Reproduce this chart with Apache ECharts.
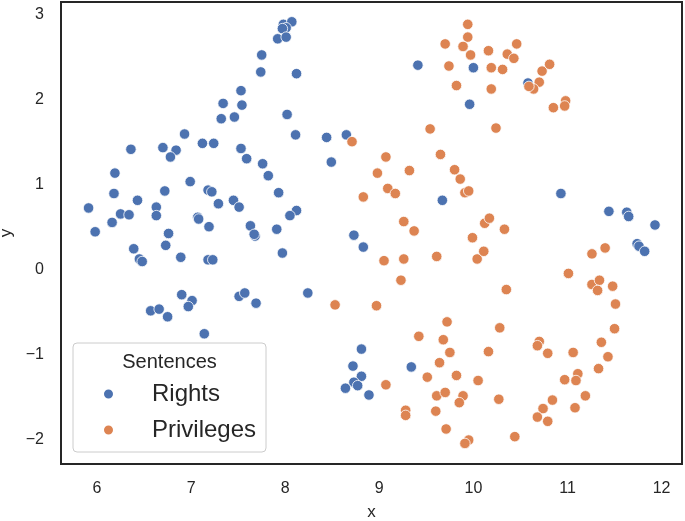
<!DOCTYPE html>
<html>
<head>
<meta charset="utf-8">
<script src="https://cdn.jsdelivr.net/npm/echarts@6/dist/echarts.min.js"></script>
<style>
  html, body { margin: 0; padding: 0; background: #fff; }
  #chart { width: 685px; height: 521px; }
</style>
</head>
<body>
<div id="chart"></div>
<script>
// series names
const seriesNames = ['Rights', 'Privileges']

// Rights points
const rightsX = [7.98, 8.07, 8.01, 7.97, 7.92, 8.01, 7.75, 7.74, 8.12, 7.53, 7.34, 7.54, 7.32, 7.46, 8.02, 8.11,
  6.93, 6.36, 6.70, 6.84, 6.78, 7.12, 7.24, 7.53, 7.59, 7.76, 7.82,
  6.19, 6.18, 6.43, 6.72, 6.99, 7.18, 7.22, 7.29, 7.45, 7.51, 7.93,
  5.91, 6.25, 6.34, 6.63, 6.63, 7.07, 7.08,
  5.98, 6.16, 6.76, 7.19, 7.63, 7.68, 7.67, 7.91, 8.12, 8.05,
  6.89, 7.18, 7.23, 7.97, 6.90, 7.01, 6.97, 7.51, 7.57, 7.69, 8.24,
  6.39, 6.45, 6.48, 6.73, 6.57, 6.66, 6.75, 7.14,
  8.44, 8.65, 8.49, 9.41, 10.00, 9.96, 9.67, 8.73, 8.83, 8.81, 8.72, 8.81, 8.73, 8.77, 8.64, 8.89, 9.34,
  10.58, 10.93, 11.44, 11.63, 11.65, 11.93, 11.74, 11.76, 11.82]
const rightsY = [2.89, 2.92, 2.85, 2.84, 2.72, 2.74, 2.53, 2.33, 2.31, 2.11, 1.96, 1.94, 1.78, 1.80, 1.83, 1.59,
  1.60, 1.42, 1.44, 1.41, 1.33, 1.49, 1.49, 1.43, 1.31, 1.25, 1.11,
  1.14, 0.90, 0.82, 0.93, 1.04, 0.94, 0.92, 0.78, 0.82, 0.74, 0.91,
  0.73, 0.66, 0.65, 0.74, 0.64, 0.62, 0.60,
  0.45, 0.56, 0.43, 0.51, 0.52, 0.40, 0.42, 0.48, 0.70, 0.64,
  0.15, 0.12, 0.12, 0.20, -0.29, -0.36, -0.43, -0.31, -0.27, -0.39, -0.27,
  0.25, 0.13, 0.10, 0.29, -0.48, -0.46, -0.55, -0.75,
  1.56, 1.59, 1.27, 2.41, 2.38, 1.95, 0.82, 0.41, 0.27, -0.93, -1.13, -1.25, -1.32, -1.36, -1.39, -1.47, -1.14,
  2.20, 0.90, 0.69, 0.68, 0.63, 0.53, 0.31, 0.28, 0.22]

// Privileges points
const privilegesX = [9.94, 9.94, 9.70, 9.89, 9.97, 9.74, 9.82, 9.54, 8.71, 9.65,
  9.07, 8.98, 9.32, 9.80, 9.86, 9.91, 9.95, 9.09, 9.17, 8.83,
  9.26, 9.37, 9.99, 9.05, 9.26, 9.61, 10.04, 9.23, 8.53, 8.97,
  9.72, 9.42, 9.68, 9.75, 9.64, 9.51, 9.82, 9.07, 9.61, 9.70,
  9.89, 9.85, 10.05, 9.28, 9.28, 9.60, 9.71, 9.95, 9.91,
  10.16, 10.19, 10.31, 10.36, 10.43, 10.46, 10.19, 10.24, 10.73, 10.81,
  10.70, 10.64, 10.59, 10.98, 10.97, 10.85, 10.12, 10.17, 10.33, 10.11,
  10.35, 11.01, 11.26, 11.40, 11.26, 11.34, 11.32, 11.48, 11.51, 10.28,
  10.16, 10.27, 10.44, 10.70, 10.68, 10.79, 11.06, 11.36, 11.50, 11.43,
  11.33, 11.11, 11.09, 10.97, 11.19, 11.08, 10.84, 10.74, 10.68, 10.79]
const privilegesY = [2.89, 2.74, 2.66, 2.63, 2.53, 2.40, 2.17, 1.66, 1.51, 1.36,
  1.33, 1.14, 1.17, 1.18, 1.07, 0.91, 0.93, 0.96, 0.90, 0.86,
  0.57, 0.46, 0.38, 0.11, 0.13, 0.16, 0.13, -0.12, -0.41, -0.42,
  -0.61, -0.78, -0.82, -0.97, -1.09, -1.26, -1.24, -1.35, -1.48, -1.44,
  -1.48, -1.56, -1.30, -1.65, -1.71, -1.66, -1.87, -2.00, -2.04,
  2.58, 2.38, 2.36, 2.54, 2.49, 2.66, 2.13, 1.67, 2.34, 2.42,
  2.21, 2.13, 2.16, 1.99, 1.93, 1.91, 0.55, 0.61, 0.48, 0.22,
  -0.23, -0.04, 0.19, 0.26, -0.17, -0.12, -0.24, -0.19, -0.40, -0.68,
  -0.96, -1.52, -1.96, -0.84, -0.89, -0.98, -0.97, -0.85, -0.69, -1.02,
  -1.16, -1.22, -1.30, -1.29, -1.48, -1.62, -1.53, -1.63, -1.73, -1.78]

// axis limits
const xRange = [5.617, 12.217]
const yRange = [-2.282, 3.153]

const colors = ['#4C72B0', '#DD8452']
const font = "'Liberation Sans', Arial, sans-serif"
const textColor = '#262626'

const zip = (xs, ys) => xs.map((x, i) => [x, ys[i]])

const chart = echarts.init(document.getElementById('chart'))

const axisCommon = {
  type: 'value',
  minInterval: 1,
  maxInterval: 1,
  nameLocation: 'middle',
  nameTextStyle: { fontSize: 17, color: textColor, fontFamily: font },
  axisLine: { show: false },
  axisTick: { show: false },
  splitLine: { show: false },
  axisLabel: {
    fontSize: 16,
    color: textColor,
    fontFamily: font,
    showMinLabel: false,
    showMaxLabel: false,
    formatter: v => String(v).replace('-', '\u2212')
  }
}

chart.setOption({
  animation: false,
  backgroundColor: '#fff',
  grid: {
    left: 61, right: 3, top: 2, bottom: 57,
    outerBoundsMode: 'none',
    containLabel: false,
    show: true,
    borderColor: '#262626',
    borderWidth: 2,
    backgroundColor: '#fff'
  },
  xAxis: Object.assign({}, axisCommon, {
    min: xRange[0], max: xRange[1],
    name: 'x', nameGap: 40,
    axisLabel: Object.assign({}, axisCommon.axisLabel, { margin: 17 })
  }),
  yAxis: Object.assign({}, axisCommon, {
    min: yRange[0], max: yRange[1],
    name: 'y', nameGap: 45,
    axisLabel: Object.assign({}, axisCommon.axisLabel, { margin: 17 })
  }),
  legend: {
    data: seriesNames,
    orient: 'vertical',
    left: 102,
    top: 382,
    padding: 0,
    icon: 'circle',
    itemWidth: 11,
    itemHeight: 11,
    itemGap: 12,
    textStyle: {
      fontSize: 24, lineHeight: 24, color: textColor, fontFamily: font,
      padding: [0, 0, 0, 33]
    }
  },
  graphic: [
    {
      type: 'rect',
      z: 3,
      shape: { x: 73, y: 343, width: 193, height: 109, r: 4 },
      style: { fill: '#fff', stroke: '#cccccc', lineWidth: 1 }
    },
    {
      type: 'text',
      z: 4,
      x: 169.5,
      y: 362,
      style: {
        text: 'Sentences',
        fontSize: 20,
        fontFamily: font,
        fill: textColor,
        align: 'center',
        verticalAlign: 'middle'
      }
    }
  ],
  series: [
    {
      name: seriesNames[0],
      type: 'scatter',
      symbolSize: 10.5,
      itemStyle: { color: colors[0], borderColor: '#fff', borderWidth: 0.8, opacity: 1 },
      data: zip(rightsX, rightsY)
    },
    {
      name: seriesNames[1],
      type: 'scatter',
      symbolSize: 10.5,
      itemStyle: { color: colors[1], borderColor: '#fff', borderWidth: 0.8, opacity: 1 },
      data: zip(privilegesX, privilegesY)
    }
  ]
})
</script>
</body>
</html>
